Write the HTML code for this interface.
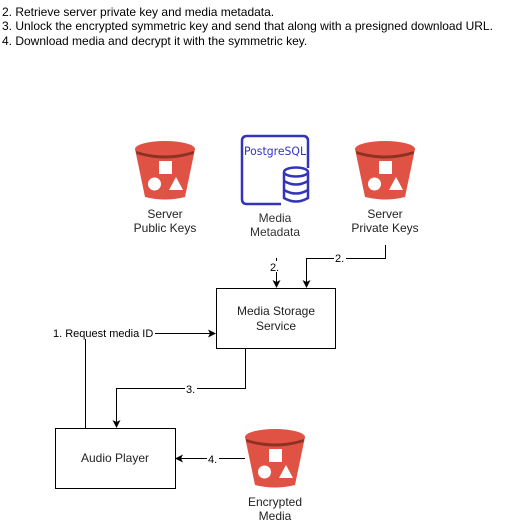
<!DOCTYPE html>
<html><head><style>
body{margin:0;background:#fff;width:511px;height:525px;overflow:hidden;font-family:"Liberation Sans",Arial,sans-serif;}
</style></head><body>
<svg width="511" height="525" xmlns="http://www.w3.org/2000/svg" font-family="Liberation Sans, Arial, sans-serif">
<defs>
<g id="bk">
<path d="M0,9 L60,9 L50,57 Q30,62 10,57 Z" fill="#e05243"/>
<ellipse cx="30" cy="9" rx="30" ry="8" fill="#e05243"/>
<path d="M1,11 Q30,20 59,11 L58.5,14 Q30,23 1.5,14 Z" fill="#8c3123"/>
<ellipse cx="30" cy="7" rx="28" ry="5" fill="#e05243"/>
<rect x="24" y="21" width="13" height="13" fill="#fff"/>
<circle cx="19.5" cy="44" r="6.5" fill="#fff"/>
<path d="M41,37 L48,50 L34,50 Z" fill="#fff"/>
</g>
<marker id="ar" markerWidth="8" markerHeight="8" refX="7" refY="4" orient="auto" markerUnits="userSpaceOnUse"><path d="M0,0 L8,4 L0,8 L2,4 Z" fill="#000"/></marker>
</defs>
<g font-size="12" fill="#000">
<text x="2" y="16">2. Retrieve server private key and media metadata.</text>
<text x="2" y="30">3. Unlock the encrypted symmetric key and send that along with a presigned download URL.</text>
<text x="2" y="45">4. Download media and decrypt it with the symmetric key.</text>
</g>
<use href="#bk" x="135" y="140"/>
<use href="#bk" x="355" y="140"/>
<use href="#bk" x="245" y="428"/>
<path d="M281,204 L247,204 Q242,204 242,199 L242,141 Q242,136 247,136 L303,136 Q308,136 308,141 L308,168" fill="none" stroke="#3334b9" stroke-width="2.5"/>
<text x="244" y="155" font-size="11.5" fill="#3334b9" font-family="DejaVu Sans, sans-serif" textLength="62" lengthAdjust="spacingAndGlyphs">PostgreSQL</text>
<g fill="#fff" stroke="#3334b9" stroke-width="2.5">
<path d="M284,172 L284,198 Q296,205 308,198 L308,172"/>
<ellipse cx="296" cy="172" rx="12" ry="4.5"/>
<path d="M284,181 Q296,188 308,181 M284,190 Q296,197 308,190" fill="none"/>
</g>
<g font-size="12" text-anchor="middle" fill="#222">
<text x="165" y="218">Server</text><text x="165" y="232">Public Keys</text>
<text x="275" y="222" fill="#333">Media</text><text x="275" y="236" fill="#333">Metadata</text>
<text x="385" y="218">Server</text><text x="385" y="232">Private Keys</text>
<text x="275" y="506">Encrypted</text><text x="275" y="520">Media</text>
</g>
<rect x="216.5" y="288.5" width="119" height="60" fill="#fff" stroke="#000"/>
<rect x="55.5" y="428.5" width="120" height="60" fill="#fff" stroke="#000"/>
<g font-size="12" text-anchor="middle" fill="#222">
<text x="276" y="315">Media Storage</text><text x="276" y="330">Service</text>
<text x="115" y="462">Audio Player</text>
</g>
<g stroke="#000" fill="none">
<path d="M276.5,258 L276.5,287" marker-end="url(#ar)"/>
<path d="M385.5,245 L385.5,258.5 L306.5,258.5 L306.5,287" marker-end="url(#ar)"/>
<path d="M85.5,428 L85.5,333.5 L215,333.5" marker-end="url(#ar)"/>
<path d="M245.5,348 L245.5,388.5 L116.5,388.5 L116.5,427" marker-end="url(#ar)"/>
<path d="M245,458.5 L176,458.5" marker-end="url(#ar)"/>
</g>
<g font-size="11" fill="#000">
<rect x="269" y="261" width="14" height="11" fill="#fff"/><text x="270" y="271">2.</text>
<rect x="334" y="253" width="12" height="11" fill="#fff"/><text x="335" y="262">2.</text>
<rect x="52" y="327" width="103" height="12" fill="#fff"/><text x="53" y="337">1. Request media ID</text>
<rect x="185" y="383" width="12" height="11" fill="#fff"/><text x="186" y="393">3.</text>
<rect x="207" y="453" width="12" height="11" fill="#fff"/><text x="208" y="463">4.</text>
</g>
</svg>
</body></html>
